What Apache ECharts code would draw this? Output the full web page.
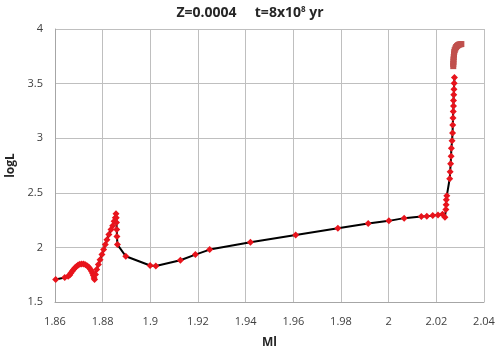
<!DOCTYPE html>
<html>
<head>
<meta charset="utf-8">
<script src="https://cdn.jsdelivr.net/npm/echarts@6/dist/echarts.min.js"></script>
<style>
  html, body { margin: 0; padding: 0; background: #fff; }
  #main { width: 500px; height: 353px; }
</style>
</head>
<body>
<div id="main"></div>
<script>
// track (red diamonds on black line)
var trackX = [
  1.8603, 1.8641, 1.8655, 1.8662, 1.8667, 1.8672, 1.8678, 1.8684, 1.8690, 1.8697,
  1.8704, 1.8712, 1.8720, 1.8728, 1.8736, 1.8743, 1.8749, 1.8754, 1.8758, 1.8761,
  1.8764, 1.8766, 1.8770, 1.8775, 1.8782, 1.8789, 1.8797, 1.8804, 1.8811, 1.8818,
  1.8826, 1.8835, 1.8842, 1.8848, 1.8853, 1.8856, 1.8857, 1.8858, 1.8859, 1.8860,
  1.8862, 1.8897, 1.8999, 1.9023, 1.9126, 1.9189, 1.9249, 1.9420, 1.9610, 1.9787,
  1.9914, 2.0001, 2.0065, 2.0137, 2.0160, 2.0185, 2.0207, 2.0226, 2.0236, 2.0240,
  2.0241, 2.0242, 2.0244, 2.0256, 2.0258, 2.0260, 2.0262, 2.0263, 2.0266, 2.0268,
  2.0269, 2.0270, 2.0271, 2.0272, 2.0272, 2.0273, 2.0274, 2.0275, 2.0276
];
var trackY = [
  1.706, 1.724, 1.735, 1.748, 1.765, 1.782, 1.798, 1.813, 1.826, 1.838,
  1.845, 1.849, 1.848, 1.842, 1.830, 1.815, 1.797, 1.780, 1.760, 1.742,
  1.720, 1.706, 1.751, 1.797, 1.843, 1.888, 1.934, 1.980, 2.026, 2.071,
  2.117, 2.163, 2.199, 2.240, 2.272, 2.309, 2.272, 2.227, 2.163, 2.099,
  2.026, 1.919, 1.834, 1.829, 1.882, 1.934, 1.980, 2.047, 2.114, 2.175,
  2.218, 2.243, 2.268, 2.284, 2.286, 2.291, 2.297, 2.303, 2.275, 2.346,
  2.391, 2.437, 2.474, 2.629, 2.693, 2.766, 2.835, 2.908, 2.976, 3.047,
  3.122, 3.184, 3.244, 3.296, 3.345, 3.397, 3.449, 3.504, 3.555
];
// top part (brownish squares)
var topX = [
  2.0271, 2.0271, 2.0272, 2.0272, 2.0273, 2.0274, 2.0275, 2.0277, 2.0280, 2.0283,
  2.0287, 2.0291, 2.0295, 2.0300, 2.0305
];
var topY = [
  3.660, 3.680, 3.700, 3.721, 3.744, 3.767, 3.788, 3.806, 3.822, 3.835,
  3.845, 3.852, 3.857, 3.860, 3.862
];

var xMin = 1.86, xMax = 2.04, xStep = 0.02;
var yMin = 1.5, yMax = 4, yStep = 0.5;

function pairs(xs, ys) {
  return xs.map(function (x, i) { return [x, ys[i]]; });
}

var myChart = echarts.init(document.getElementById('main'));

var option = {
  animation: false,
  backgroundColor: '#fff',
  title: {
    text: '{t|Z=0.0004     t=8x10}{s|8}{t| yr}',
    left: 'center',
    top: 1,
    textStyle: {
      rich: {
        t: { fontFamily: 'Open Sans', fontWeight: 'bold', fontSize: 14, color: '#262626' },
        s: { fontFamily: 'Open Sans', fontWeight: 'bold', fontSize: 8, color: '#262626', verticalAlign: 'top', padding: [0, 0, 7, 0] }
      }
    }
  },
  grid: { left: 55, right: 16, top: 29, bottom: 51, outerBoundsMode: 'none' },
  xAxis: {
    type: 'value',
    min: xMin, max: xMax, interval: xStep,
    name: 'Ml',
    nameLocation: 'middle',
    nameGap: 35,
    nameTextStyle: { fontFamily: 'Open Sans', fontWeight: 'bold', fontSize: 12, color: '#262626' },
    axisLine: { show: true, lineStyle: { color: '#a6a6a6' } },
    axisTick: { show: false },
    axisLabel: { margin: 14, fontFamily: 'Open Sans', fontSize: 11, color: '#404040' },
    splitLine: { show: true, lineStyle: { color: '#bfbfbf' } }
  },
  yAxis: {
    type: 'value',
    min: yMin, max: yMax, interval: yStep,
    name: 'logL',
    nameLocation: 'middle',
    nameGap: 37,
    nameTextStyle: { fontFamily: 'Open Sans', fontWeight: 'bold', fontSize: 12, color: '#262626' },
    axisLine: { show: true, lineStyle: { color: '#a6a6a6' } },
    axisTick: { show: false },
    axisLabel: { margin: 12, fontFamily: 'Open Sans', fontSize: 11, color: '#404040' },
    splitLine: { show: true, lineStyle: { color: '#bfbfbf' } }
  },
  series: [
    {
      type: 'line',
      data: pairs(trackX, trackY),
      symbol: 'diamond',
      symbolSize: 7,
      lineStyle: { color: '#000', width: 2 },
      itemStyle: { color: '#e8141c' }
    },
    {
      type: 'line',
      data: pairs(topX, topY),
      symbol: 'rect',
      symbolSize: 6,
      lineStyle: { color: '#c0504d', width: 5 },
      itemStyle: { color: '#c0504d' }
    }
  ]
};

myChart.setOption(option);
</script>
</body>
</html>
